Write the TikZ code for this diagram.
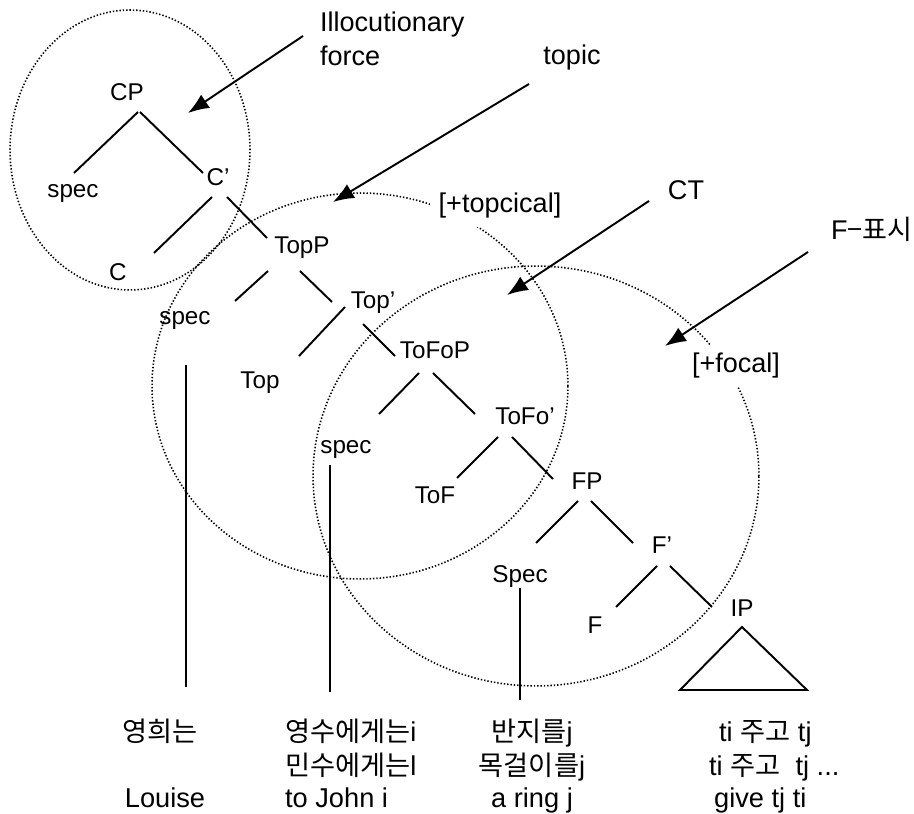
\documentclass[tikz,border=0pt]{standalone}
\usepackage{fontspec}
\setmainfont{Liberation Sans}
\newfontfamily\krfont{Noto Sans CJK KR}
\usetikzlibrary{arrows.meta}

\begin{document}
\begin{tikzpicture}[
    x=0.02cm, y=-0.02cm,
    cat/.style={font=\fontsize{13.8}{16}\selectfont, inner sep=1pt},
    note/.style={font=\fontsize{15.4}{19.6}\selectfont, inner sep=1pt},
    feat/.style={note, fill=white, inner sep=5pt},
    word/.style={font=\fontsize{15.5}{18}\selectfont, inner sep=1pt, anchor=base},
    branch/.style={line width=1.1pt},
    ring/.style={line width=0.9pt, dash pattern=on 0.8pt off 1.1pt},
    pointer/.style={line width=1.1pt, -{Latex[length=0.42cm, width=0.32cm]}}
]
    \useasboundingbox (0,0) rectangle (914,814);

    % Domains
    \draw[ring] (130,150) ellipse [x radius=2.4cm, y radius=2.8cm];
    \draw[ring] (360,386) ellipse [x radius=4.16cm, y radius=3.86cm];
    \draw[ring] (536,476) ellipse [x radius=4.46cm, y radius=4.2cm];

    % Labels
    \node[note, anchor=west, align=left] (illoc) at (318,39) {Illocutionary\\force};
    \node[note] (topic) at (572,58) {topic};
    \node[note] (ct) at (686,190) {CT};
    \node[note, anchor=base west] (fmark) at (829,240) {F{\krfont −표시}};
    \node[feat] (topical) at (500,206) {[+topcical]};
    \node[feat] (focal) at (736,366) {[+focal]};

    % Tree
    \node[cat] (CP) at (127,92) {CP};
    \node[cat] (spec1) at (73,193) {spec};
    \node[cat] (C1) at (218,177) {C’};
    \node[cat] (C) at (118,272) {C};
    \node[cat] (TopP) at (302,248) {TopP};
    \node[cat] (spec2) at (185,320) {spec};
    \node[cat] (Top1) at (373,303) {Top’};
    \node[cat] (Top) at (260,383) {Top};
    \node[cat] (ToFoP) at (435,350) {ToFoP};
    \node[cat] (spec3) at (346,449) {spec};
    \node[cat] (ToFo1) at (525,416) {ToFo’};
    \node[cat] (ToF) at (435,495) {ToF};
    \node[cat] (FP) at (587,481) {FP};
    \node[cat] (Spec) at (520,577) {Spec};
    \node[cat] (F1) at (662,545) {F’};
    \node[cat] (F) at (595,625) {F};
    \node[cat] (IP) at (742,608) {IP};

    \draw[branch] ([shift={(11,20)}]CP.center) -- ([shift={(1,-20)}]spec1.center);
    \draw[branch] ([shift={(13,20)}]CP.center) -- ([shift={(-15,-4)}]C1.center);
    \draw[branch] ([shift={(-6,20)}]C1.center) -- ([shift={(36,-19)}]C.center);
    \draw[branch] ([shift={(9,20)}]C1.center) -- ([shift={(-35,-10)}]TopP.center);
    \draw[branch] ([shift={(-34,23)}]TopP.center) -- ([shift={(50,-19)}]spec2.center);
    \draw[branch] ([shift={(-2,23)}]TopP.center) -- ([shift={(-41,-1)}]Top1.center);
    \draw[branch] ([shift={(-28,4)}]Top1.center) -- ([shift={(39,-27)}]Top.center);
    \draw[branch] ([shift={(-10,21)}]Top1.center) -- ([shift={(-40,6)}]ToFoP.center);
    \draw[branch] ([shift={(-16,23)}]ToFoP.center) -- ([shift={(33,-35)}]spec3.center);
    \draw[branch] ([shift={(-2,23)}]ToFoP.center) -- ([shift={(-50,-2)}]ToFo1.center);
    \draw[branch] ([shift={(-27,21)}]ToFo1.center) -- ([shift={(22,-17)}]ToF.center);
    \draw[branch] ([shift={(-13,21)}]ToFo1.center) -- ([shift={(-34,-2)}]FP.center);
    \draw[branch] ([shift={(-9,20)}]FP.center) -- ([shift={(16,-34)}]Spec.center);
    \draw[branch] ([shift={(4,20)}]FP.center) -- ([shift={(-29,-2)}]F1.center);
    \draw[branch] ([shift={(-5,21)}]F1.center) -- ([shift={(21,-18)}]F.center);
    \draw[branch] ([shift={(8,21)}]F1.center) -- ([shift={(-30,-1)}]IP.center);

    % Words
    \node[word] (hee) at (160,742) {\krfont 영희는};
    \node[word] (louise) at (165,807) {Louise};
    \node[word, anchor=base west] (ysu) at (283,742) {{\krfont 영수에게는}i};
    \node[word, anchor=base west] (msu) at (283,775) {{\krfont 민수에게는}l};
    \node[word, anchor=base west] (john) at (283,807) {to John i};
    \node[word] (ring1) at (532,742) {{\krfont 반지를}j};
    \node[word] (ring2) at (532,775) {{\krfont 목걸이를}j};
    \node[word] (ring3) at (532,807) {a ring j};
    \node[word, anchor=base west] (give1) at (717,742) {ti {\krfont 주고} tj};
    \node[word, anchor=base west] (give2) at (707,775) {ti {\krfont 주고}\ \ tj ...};
    \node[word, anchor=base west] (give3) at (712,807) {give tj ti};

    \draw[branch] ([shift={(1,45)}]spec2.center) -- ([shift={(1,367)}]spec2.center);
    \draw[branch] ([shift={(-16,16)}]spec3.center) -- ([shift={(-16,243)}]spec3.center);
    \draw[branch] ([shift={(0,11)}]Spec.center) -- ([shift={(0,123)}]Spec.center);
    \draw[branch] ([shift={(0,19)}]IP.center) -- ++(65,63) -- ++(-127,0) -- cycle;

    % Pointers
    \coordinate (forceTip) at (188,113);
    \coordinate (topicTip) at (333,202);
    \coordinate (ctTip) at (507,295);
    \coordinate (fTip) at (665,346);
    \draw[pointer] ([shift={(-15,-3)}]illoc.west) -- (forceTip);
    \draw[pointer] ([shift={(-43,26)}]topic.center) -- (topicTip);
    \draw[pointer] ([shift={(-37,11)}]ct.center) -- (ctTip);
    \draw[pointer] ([shift={(-21,12)}]fmark.base west) -- (fTip);

\end{tikzpicture}
\end{document}
